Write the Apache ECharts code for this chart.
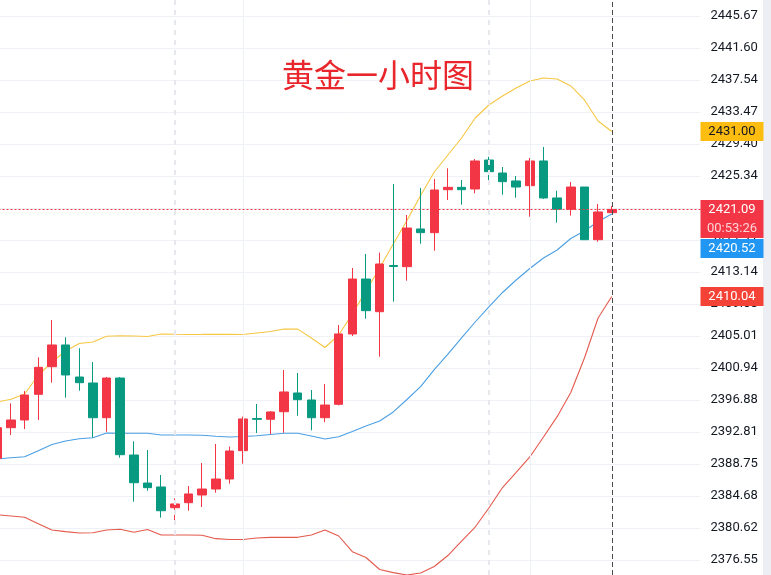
<!DOCTYPE html>
<html>
<head>
<meta charset="utf-8">
<title>黄金一小时图</title>
<script src="https://cdn.jsdelivr.net/npm/echarts@6/dist/echarts.min.js"></script>
<style>
  html, body { margin: 0; padding: 0; background: #fff; }
  #chart { width: 771px; height: 575px; }
</style>
</head>
<body>
<div id="chart"></div>
<script>
// 1小时K线（红涨绿跌）
const candleOpen = [2389.47, 2393.36, 2394.34, 2397.60, 2401.11, 2403.87, 2399.80, 2399.04, 2394.63, 2399.67, 2389.89, 2386.33, 2385.83, 2383.19, 2383.83, 2384.81, 2385.57, 2386.84, 2390.44, 2394.52, 2394.43, 2395.39, 2397.77, 2396.88, 2394.63, 2396.33, 2405.27, 2412.25, 2408.10, 2413.97, 2413.82, 2418.61, 2418.14, 2423.60, 2423.90, 2423.69, 2427.37, 2425.72, 2424.71, 2424.11, 2427.25, 2422.55, 2421.11, 2423.94, 2417.25, 2420.68]
const candleClose = [2393.36, 2394.34, 2397.51, 2401.03, 2403.87, 2400.06, 2399.08, 2394.63, 2399.67, 2389.93, 2386.37, 2385.74, 2382.81, 2383.67, 2384.94, 2385.57, 2386.84, 2390.40, 2394.47, 2394.42, 2395.36, 2397.90, 2396.92, 2394.63, 2396.24, 2405.27, 2412.25, 2408.23, 2414.16, 2413.84, 2418.73, 2418.14, 2423.56, 2423.90, 2423.60, 2427.25, 2425.89, 2424.62, 2423.94, 2427.25, 2422.55, 2421.11, 2423.94, 2417.25, 2420.77, 2421.09]
const candleLow = [2389.26, 2392.43, 2393.19, 2394.34, 2399.08, 2397.17, 2398.06, 2392.09, 2392.85, 2389.55, 2383.96, 2385.35, 2381.93, 2381.00, 2382.81, 2383.28, 2385.10, 2386.25, 2388.79, 2392.69, 2392.52, 2392.72, 2394.88, 2393.03, 2394.05, 2396.20, 2405.01, 2407.21, 2402.38, 2409.37, 2412.04, 2416.74, 2415.85, 2422.29, 2421.69, 2423.14, 2424.62, 2422.96, 2422.58, 2420.17, 2422.42, 2419.41, 2420.30, 2417.25, 2416.99, 2420.68]
const candleHigh = [2393.90, 2396.46, 2398.02, 2402.30, 2407.04, 2404.85, 2403.45, 2401.71, 2399.80, 2399.80, 2391.63, 2390.53, 2387.35, 2384.39, 2385.95, 2388.87, 2391.29, 2390.95, 2394.76, 2396.37, 2395.48, 2400.69, 2400.31, 2398.15, 2398.91, 2406.41, 2413.65, 2415.43, 2415.60, 2424.32, 2420.39, 2423.82, 2424.96, 2426.32, 2424.83, 2427.50, 2427.79, 2426.48, 2425.34, 2427.63, 2429.03, 2423.47, 2424.58, 2423.94, 2421.78, 2421.53]

// 布林带
const bollUpper = [2396.62, 2396.98, 2397.64, 2400.02, 2401.71, 2403.11, 2404.06, 2404.25, 2404.97, 2405.05, 2405.01, 2404.95, 2405.27, 2405.23, 2405.21, 2405.22, 2405.24, 2405.22, 2405.20, 2405.39, 2405.58, 2405.90, 2405.88, 2404.76, 2403.55, 2405.14, 2407.81, 2410.73, 2413.65, 2416.70, 2419.69, 2422.86, 2425.85, 2428.01, 2430.17, 2432.71, 2434.36, 2435.51, 2436.52, 2437.41, 2437.79, 2437.67, 2436.78, 2435.00, 2432.33, 2431.00]
const bollMiddle = [2389.38, 2389.55, 2389.67, 2390.44, 2391.23, 2391.67, 2391.95, 2392.09, 2392.69, 2392.65, 2392.65, 2392.65, 2392.43, 2392.43, 2392.43, 2392.40, 2392.27, 2392.18, 2392.24, 2392.34, 2392.50, 2392.65, 2392.65, 2392.31, 2391.92, 2392.21, 2392.88, 2393.58, 2394.21, 2395.36, 2396.94, 2398.59, 2400.75, 2402.72, 2404.76, 2406.79, 2408.70, 2410.54, 2412.13, 2413.59, 2414.92, 2415.94, 2417.40, 2418.35, 2419.56, 2420.52]
const bollLower = [2382.29, 2382.14, 2381.98, 2381.17, 2380.36, 2380.15, 2379.98, 2380.02, 2380.36, 2380.45, 2380.07, 2380.43, 2379.73, 2379.73, 2379.73, 2379.69, 2379.26, 2379.15, 2379.15, 2379.35, 2379.43, 2379.43, 2379.43, 2379.73, 2380.36, 2379.60, 2377.60, 2376.87, 2375.34, 2374.95, 2374.64, 2374.90, 2375.72, 2377.12, 2378.96, 2380.74, 2383.16, 2385.76, 2387.67, 2389.64, 2392.18, 2394.76, 2397.83, 2402.22, 2407.30, 2410.04]

// 右侧价格刻度
const tickLabels = ['2376.55', '2380.62', '2384.68', '2388.75', '2392.81', '2396.88', '2400.94', '2405.01', '2409.08', '2413.14', '2417.21', '2421.28', '2425.34', '2429.40', '2433.47', '2437.54', '2441.60', '2445.67']

// 横轴：46根K线 + 右侧留白
const slotCount = 52
const categories = Array.from({ length: slotCount }, (_, i) => String(i))
const sessionDashed = [13, 36]
const sessionSolid = [18, 39]
const nowIndex = 45
const lastPrice = 2421.09
const countdown = '00:53:26'

const kData = candleOpen.map((o, i) => [o, candleClose[i], candleLow[i], candleHigh[i]])
const yTicks = tickLabels.map(Number)

const boxFont = { fontSize: 13, fontFamily: 'Roboto', lineHeight: 19, height: 19, width: 63, align: 'center' }

// 右侧价格标签（线透明，只保留标签）
function priceTag(value, bg, fg, shift) {
  return {
    yAxis: value,
    lineStyle: { color: 'rgba(0,0,0,0)', opacity: 1, width: 1, type: 'solid' },
    label: {
      show: true,
      opacity: 1,
      position: 'end',
      distance: 0,
      formatter: (shift ? '{e| }\n' : '') + '{p|' + value.toFixed(2) + '}',
      rich: {
        e: { height: shift, lineHeight: shift, width: 63 },
        p: Object.assign({ backgroundColor: bg, color: fg }, boxFont),
      },
    },
  }
}

const chart = echarts.init(document.getElementById('chart'))

chart.setOption({
  animation: false,
  backgroundColor: '#ffffff',
  title: {
    text: '黄金一小时图',
    left: 277,
    top: 54,
    textStyle: { color: '#e8262b', fontSize: 32, fontWeight: 'normal', fontFamily: 'Noto Sans CJK SC' },
  },
  grid: { left: -9.5, right: 70.5, top: 0, bottom: 0, outerBoundsMode: 'none' },
  xAxis: {
    type: 'category',
    data: categories,
    boundaryGap: true,
    axisLine: { show: false },
    axisTick: { show: false },
    axisLabel: { show: false },
    splitLine: { show: false },
  },
  yAxis: {
    type: 'value',
    position: 'right',
    scale: true,
    min: 2374.644,
    max: 2447.703,
    axisLine: { show: false },
    axisTick: { show: false, customValues: yTicks },
    axisLabel: {
      customValues: yTicks,
      formatter: v => v.toFixed(2),
      color: '#131722',
      fontSize: 13,
      fontFamily: 'Roboto',
      margin: 10,
    },
    splitLine: { show: true, lineStyle: { color: '#eef1f6', width: 1 } },
  },
  graphic: [
    { type: 'rect', right: 0, top: 0, shape: { width: 8, height: 575 }, style: { fill: '#eceef3' }, silent: true },
  ],
  series: [
    {
      name: '上轨',
      type: 'line',
      data: bollUpper,
      symbol: 'none',
      clip: false,
      z: 2,
      lineStyle: { color: '#f6c644', width: 1.1 },
      markLine: {
        symbol: ['none', 'none'],
        silent: true,
        animation: false,
        label: { show: false },
        data: [
          ...sessionDashed.map(i => ({ xAxis: i, lineStyle: { color: '#e6e8ee', type: [5, 5], width: 2 } })),
          ...sessionSolid.map(i => ({ xAxis: i, lineStyle: { color: '#eef1f6', type: 'solid', width: 1 } })),
          { xAxis: nowIndex, lineStyle: { color: '#4a4a4a', type: [5, 3], width: 1 } },
        ],
      },
    },
    {
      name: '中轨',
      type: 'line',
      data: bollMiddle,
      symbol: 'none',
      clip: false,
      z: 2,
      lineStyle: { color: '#4b9fe4', width: 1.1 },
    },
    {
      name: '下轨',
      type: 'line',
      data: bollLower,
      symbol: 'none',
      clip: false,
      z: 2,
      lineStyle: { color: '#e4594c', width: 1.1 },
    },
    {
      name: 'K线',
      type: 'candlestick',
      data: kData,
      barWidth: 9,
      clip: false,
      z: 3,
      itemStyle: {
        color: '#f23645',
        color0: '#089981',
        borderColor: '#f23645',
        borderColor0: '#089981',
        borderWidth: 1,
      },
      markLine: {
        symbol: ['none', 'none'],
        silent: true,
        animation: false,
        lineStyle: { color: '#f23645', type: [2, 2], width: 1 },
        data: [
          {
            yAxis: lastPrice,
            label: {
              show: true,
              position: 'end',
              distance: 0,
              formatter: '{e| }\n{p|' + lastPrice.toFixed(2) + '}\n{t|' + countdown + '}',
              rich: {
                e: { height: 19, lineHeight: 19, width: 63 },
                p: Object.assign({ backgroundColor: '#f23645', color: '#ffffff' }, boxFont),
                t: Object.assign({ backgroundColor: '#f23645', color: 'rgba(255,255,255,0.78)' }, boxFont),
              },
            },
          },
          priceTag(bollUpper[bollUpper.length - 1], '#fdbd10', '#131722', 0),
          priceTag(bollMiddle[bollMiddle.length - 1], '#2196f3', '#ffffff', 69),
          priceTag(bollLower[bollLower.length - 1], '#f44336', '#ffffff', 0),
        ],
      },
    },
  ],
})

window.addEventListener('resize', () => chart.resize())
</script>
</body>
</html>
